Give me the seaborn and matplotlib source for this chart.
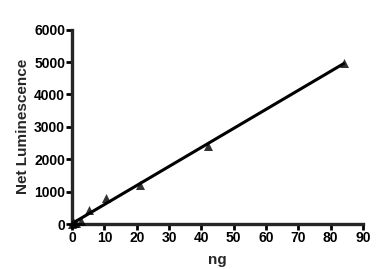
import matplotlib
matplotlib.use("Agg")
import matplotlib.pyplot as plt
import seaborn as sns
import pandas as pd

ng = [0, 0.66, 1.3, 2.6, 5.25, 10.5, 21, 42, 84]
lum = [0, 20, 40, 110, 430, 790, 1200, 2420, 4970]
xticks = [0, 10, 20, 30, 40, 50, 60, 70, 80, 90]
yticks = [0, 1000, 2000, 3000, 4000, 5000, 6000]

df = pd.DataFrame({"ng": ng, "lum": lum})

sns.set_style("ticks")
plt.rcParams['font.family'] = ['Liberation Sans', 'DejaVu Sans']

fig = plt.figure(figsize=(3.92, 2.69), dpi=100)
ax = fig.add_axes([0.184, 0.167, 0.742, 0.723])

sns.regplot(data=df, x="ng", y="lum", ci=None, ax=ax, truncate=True,
            marker="^", color="black",
            scatter_kws={"s": 42, "edgecolors": "black", "linewidths": 0, "clip_on": False, "zorder": 3},
            line_kws={"linewidth": 2.2, "color": "black"})

ax.set_xlim(0, 90)
ax.set_ylim(0, 6000)
ax.set_xticks(xticks)
ax.set_yticks(yticks)
ax.set_xticklabels([str(v) for v in xticks], fontweight="bold", fontsize=10)
ax.set_yticklabels([str(v) for v in yticks], fontweight="bold", fontsize=10)
ax.set_xlabel("ng", fontweight="bold", fontsize=11, labelpad=6)
ax.set_ylabel("Net Luminescence", fontweight="bold", fontsize=11, labelpad=3)
for s in ["top", "right"]:
    ax.spines[s].set_visible(False)
for s in ["left", "bottom"]:
    ax.spines[s].set_linewidth(2.4)
ax.tick_params(axis="both", width=2.0, length=4, direction="out", pad=1.0, colors="black")

fig.savefig("out.png", dpi=100)
